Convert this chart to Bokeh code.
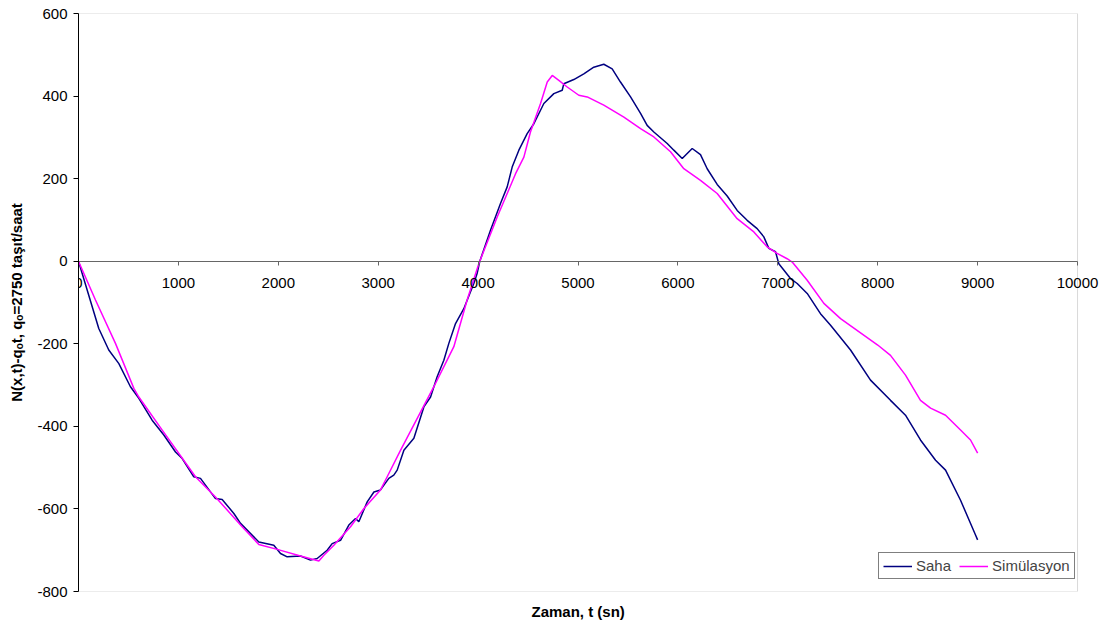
from bokeh.plotting import figure
from bokeh.models import (Range1d, Legend, LegendItem, FixedTicker, Title,
                          BoxAnnotation, PrintfTickFormatter)
from bokeh.embed import file_html
from bokeh.resources import INLINE

# Saha (field data)
saha_t = [0, 203, 303, 404, 520, 604, 737, 854, 971, 1038, 1154, 1221, 1371, 1438, 1555,
          1622, 1805, 1955, 2022, 2089, 2222, 2322, 2389, 2489, 2539, 2623, 2706, 2773,
          2806, 2890, 2957, 3023, 3106, 3156, 3190, 3257, 3357, 3457, 3524, 3590, 3657,
          3707, 3774, 3857, 3924, 3957, 3990, 4017, 4124, 4224, 4291, 4341, 4408, 4491,
          4558, 4658, 4758, 4842, 4858, 4958, 5058, 5158, 5258, 5342, 5425, 5526, 5626,
          5692, 5759, 5893, 5959, 6043, 6143, 6226, 6293, 6393, 6493, 6593, 6693, 6793,
          6860, 6910, 6977, 7010, 7127, 7194, 7294, 7427, 7528, 7728, 7928, 8128, 8278,
          8428, 8579, 8679, 8829, 8979, 9000]
saha_v = [0, -163, -215, -248, -304, -332, -385, -421, -462, -478, -522, -526, -575, -577, -611,
          -635, -680, -688, -708, -716, -714, -724, -720, -700, -684, -676, -639, -623,
          -631, -583, -559, -554, -526, -518, -506, -458, -429, -353, -329, -280, -240,
          -199, -151, -115, -74, -54, -30, 0, 75, 140, 180, 228, 269, 309,
          333, 382, 406, 414, 430, 440, 454, 470, 477, 466, 434, 398, 358,
          329, 313, 285, 269, 249, 273, 258, 224, 186, 158, 123, 99, 79,
          59, 31, 23, -6, -42, -54, -78, -127, -155, -215, -288, -337, -373,
          -433, -482, -506, -579, -663, -675]

# Simülasyon (simulation)
sim_t = [0, 170, 370, 554, 604, 838, 1171, 1371, 1638, 1805, 1989, 2222, 2406, 2456, 2556,
         2723, 2857, 3023, 3090, 3223, 3557, 3757, 3890, 4007, 4191, 4375, 4458, 4524,
         4625, 4692, 4742, 4808, 4892, 5008, 5092, 5258, 5459, 5626, 5759, 5926, 6059,
         6226, 6393, 6593, 6760, 6893, 6993, 7093, 7144, 7294, 7461, 7628, 8000, 8128,
         8278, 8428, 8529, 8679, 8829, 8929, 9000]
sim_v = [0, -94, -199, -308, -329, -409, -522, -571, -643, -686, -698, -714, -726, -712, -688,
         -643, -599, -554, -522, -458, -304, -207, -94, -6, 107, 212, 252, 313,
         382, 434, 450, 438, 422, 402, 398, 378, 349, 321, 301, 265, 224,
         196, 164, 103, 71, 35, 19, 6, -2, -46, -102, -139, -203, -228,
         -276, -337, -356, -373, -409, -433, -465]

x_ticks = [0, 1000, 2000, 3000, 4000, 5000, 6000, 7000, 8000, 9000, 10000]
y_ticks = [-800, -600, -400, -200, 0, 200, 400, 600]

FONT = "Liberation Sans"

p = figure(width=1105, height=633, output_backend="svg", toolbar_location=None,
           x_range=Range1d(0, 10250), y_range=Range1d(-800, 600),
           min_border_left=78, min_border_right=3, min_border_top=13, min_border_bottom=42)
p.xgrid.visible = False
p.ygrid.visible = False
p.outline_line_color = None
p.background_fill_color = "white"
p.border_fill_color = "white"

# plot-area border
p.add_layout(BoxAnnotation(left=0, right=10000, bottom=-800, top=600,
                           fill_alpha=0, line_color="#808080", line_width=1, level="underlay"))

# x axis crossing at y = 0
xa = p.xaxis[0]
xa.fixed_location = 0
xa.bounds = (0, 10000)
xa.ticker = FixedTicker(ticks=x_ticks)
xa.formatter = PrintfTickFormatter(format="%d")
xa.axis_line_color = "#666666"
xa.major_tick_line_color = "#666666"
xa.major_tick_out = 4
xa.major_tick_in = 0
xa.minor_tick_line_color = None
xa.major_label_text_font = FONT
xa.major_label_text_font_size = "15px"
xa.major_label_text_color = "black"
xa.major_label_standoff = 13

# x title below the plot area
xt = Title(text="Zaman, t (sn)", align="left", offset=453, standoff=18,
           text_font=FONT, text_font_size="15px", text_font_style="bold",
           text_color="black")
p.add_layout(xt, "below")

ya = p.yaxis[0]
ya.ticker = FixedTicker(ticks=y_ticks)
ya.formatter = PrintfTickFormatter(format="%d")
ya.axis_line_color = "black"
ya.major_tick_line_color = "black"
ya.major_tick_out = 5
ya.major_tick_in = 0
ya.minor_tick_line_color = None
ya.major_label_text_font = FONT
ya.major_label_text_font_size = "15px"
ya.major_label_text_color = "black"
ya.major_label_standoff = 6
ya.axis_label = "N(x,t)-qₒt, qₒ=2750 taşıt/saat"
ya.axis_label_text_font = FONT
ya.axis_label_text_font_size = "15px"
ya.axis_label_text_font_style = "bold"
ya.axis_label_text_color = "black"
ya.axis_label_standoff = 9

r1 = p.line(saha_t, saha_v, line_color="#000080", line_width=1.5)
r2 = p.line(sim_t, sim_v, line_color="#FF00FF", line_width=1.5)

legend = Legend(items=[LegendItem(label="Saha", renderers=[r1]),
                       LegendItem(label="Simülasyon", renderers=[r2])],
                orientation="horizontal", location=(800, 12),
                border_line_color="black", border_line_width=1,
                background_fill_color="white", background_fill_alpha=1,
                label_text_font=FONT, label_text_font_size="15px",
                glyph_width=29, glyph_height=16, label_height=16, label_standoff=4,
                spacing=8, padding=4, margin=0)
p.add_layout(legend)

open("out.html", "w").write(file_html(p, INLINE))
